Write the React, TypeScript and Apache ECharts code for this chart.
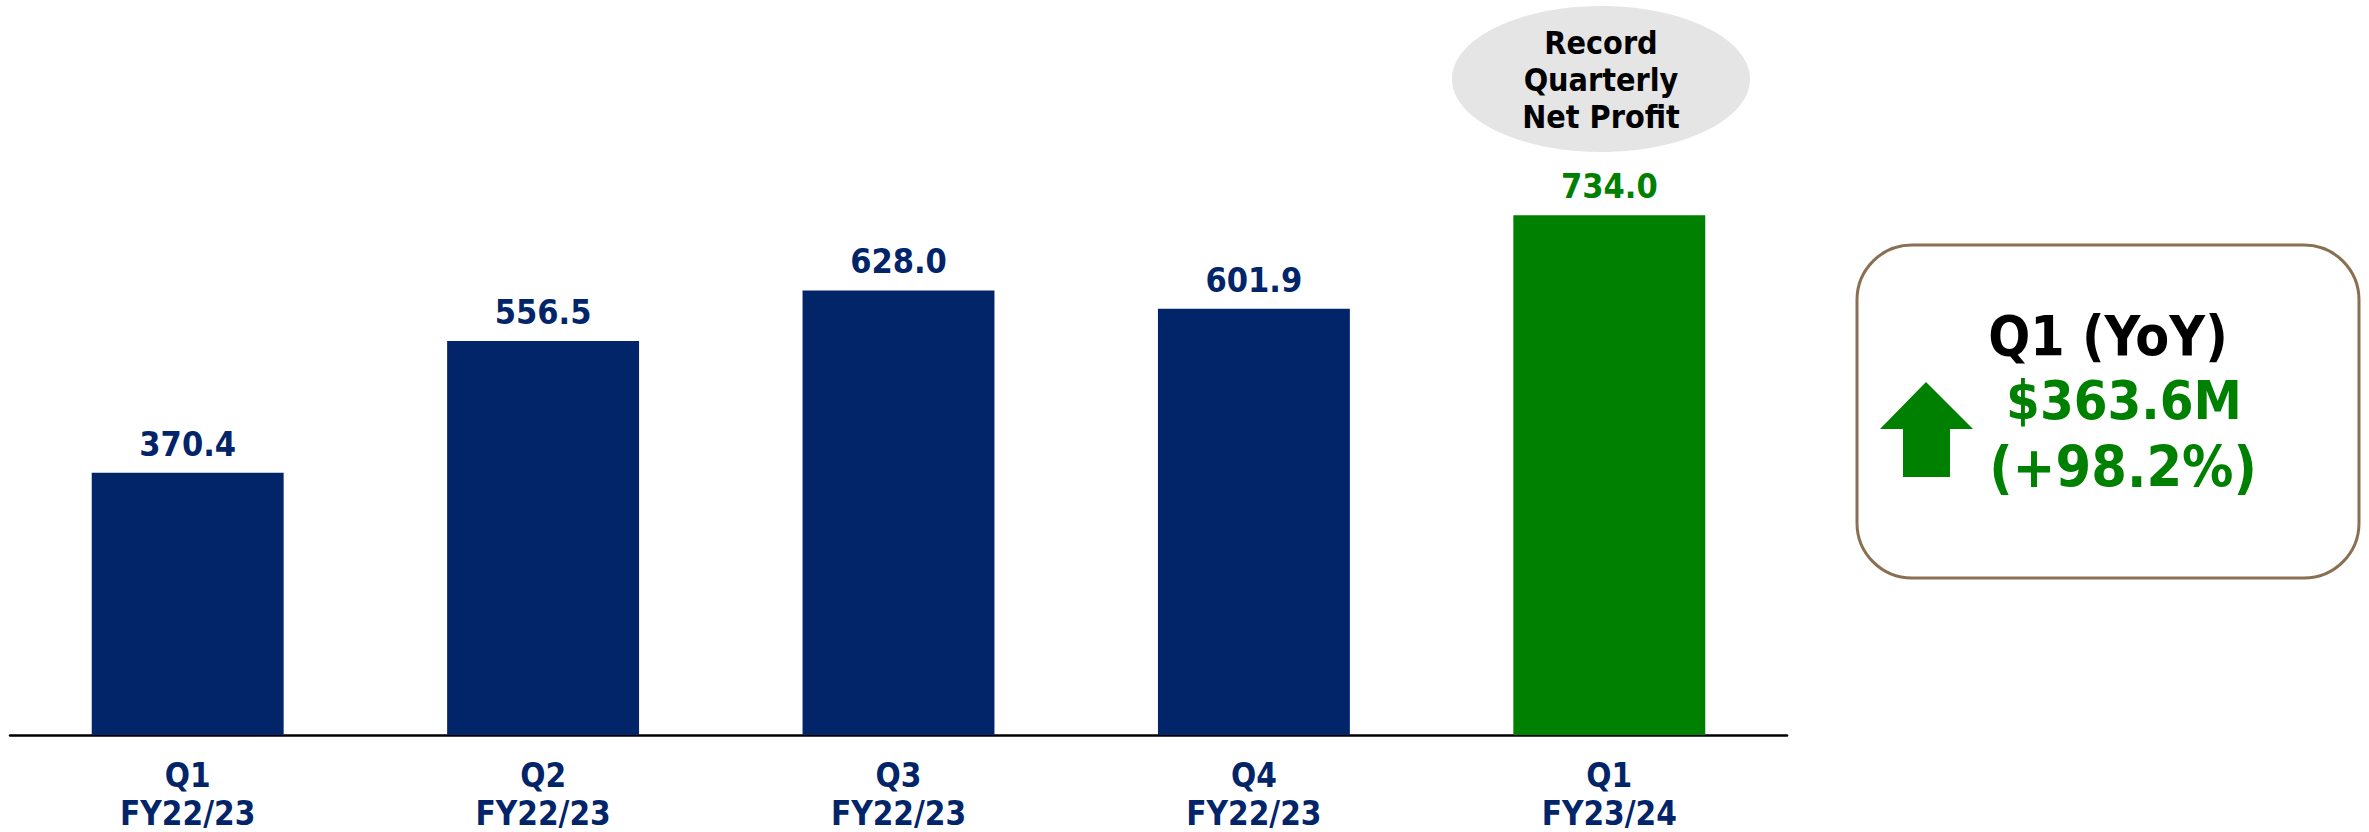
import React, { useEffect, useRef } from "react";
import * as echarts from "echarts";

const quarters = ["Q1", "Q2", "Q3", "Q4", "Q1"];
const fiscalYears = ["FY22/23", "FY22/23", "FY22/23", "FY22/23", "FY23/24"];
const netProfit = [370.4, 556.5, 628.0, 601.9, 734.0];
const highlightIndex = 4;

const calloutLines = ["Record", "Quarterly", "Net Profit"];
const yoyTitle = "Q1 (YoY)";
const yoyAmount = "$363.6M";
const yoyPct = "(+98.2%)";

const NAVY = "#022469";
const GREEN = "#008000";
const FONT = "'DejaVu Sans Condensed', 'DejaVu Sans', Tahoma, sans-serif";

export default function App() {
  const ref = useRef<HTMLDivElement>(null);
  useEffect(() => {
    if (!ref.current) return;
    const chart = echarts.init(ref.current, null, { renderer: "svg" });
    const categories = quarters.map((q, i) => q + "\n" + fiscalYears[i]);
    chart.setOption({
      animation: false,
      backgroundColor: "#ffffff",
      grid: { left: 10, top: 27, width: 1777, bottom: 97, containLabel: false },
      xAxis: {
        type: "category",
        data: categories,
        axisLine: { show: true, lineStyle: { color: "#000000", width: 2.5 } },
        axisTick: { show: false },
        axisLabel: {
          color: NAVY,
          fontSize: 33,
          fontWeight: "bold",
          fontFamily: FONT,
          lineHeight: 38,
          margin: 21,
        },
      },
      yAxis: {
        type: "value",
        min: 0,
        max: 1000,
        show: false,
        splitLine: { show: false },
      },
      series: [
        {
          type: "bar",
          barWidth: "54%",
          data: netProfit.map((v, i) => ({
            value: v,
            itemStyle: { color: i === highlightIndex ? GREEN : NAVY },
            label: { color: i === highlightIndex ? GREEN : NAVY },
          })),
          label: {
            show: true,
            position: "top",
            distance: 12,
            fontSize: 34,
            fontWeight: "bold",
            fontFamily: FONT,
            formatter: (p: any) => Number(p.value).toFixed(1),
          },
        },
      ],
      graphic: [
        {
          type: "ellipse",
          shape: { cx: 1601, cy: 79, rx: 149, ry: 73 },
          style: { fill: "#e5e5e5" },
          silent: true,
        },
        {
          type: "text",
          x: 1601,
          y: 80,
          style: {
            text: calloutLines.join("\n"),
            fill: "#000000",
            font: `bold 32px ${FONT}`,
            lineHeight: 37,
            align: "center",
            verticalAlign: "middle",
          },
        },
        {
          type: "rect",
          shape: { x: 1857, y: 245, width: 502, height: 333, r: 55 },
          style: { fill: "#ffffff", stroke: "#8a7052", lineWidth: 3 },
        },
        {
          type: "text",
          x: 2108,
          y: 336,
          style: {
            text: yoyTitle,
            fill: "#000000",
            font: `bold 55px ${FONT}`,
            align: "center",
            verticalAlign: "middle",
          },
        },
        {
          type: "text",
          x: 2124,
          y: 400,
          style: {
            text: yoyAmount,
            fill: GREEN,
            font: `bold 54px ${FONT}`,
            align: "center",
            verticalAlign: "middle",
          },
        },
        {
          type: "text",
          x: 2123,
          y: 467,
          style: {
            text: yoyPct,
            fill: GREEN,
            font: `bold 57px ${FONT}`,
            align: "center",
            verticalAlign: "middle",
          },
        },
        {
          type: "polygon",
          shape: {
            points: [
              [1926, 382],
              [1973, 429],
              [1950, 429],
              [1950, 477],
              [1903, 477],
              [1903, 429],
              [1880, 429],
            ],
          },
          style: { fill: GREEN },
        },
      ],
    });
    return () => chart.dispose();
  }, []);
  return (
    <div
      ref={ref}
      style={{ position: "absolute", left: 0, top: 0, width: 2369, height: 832 }}
    />
  );
}
